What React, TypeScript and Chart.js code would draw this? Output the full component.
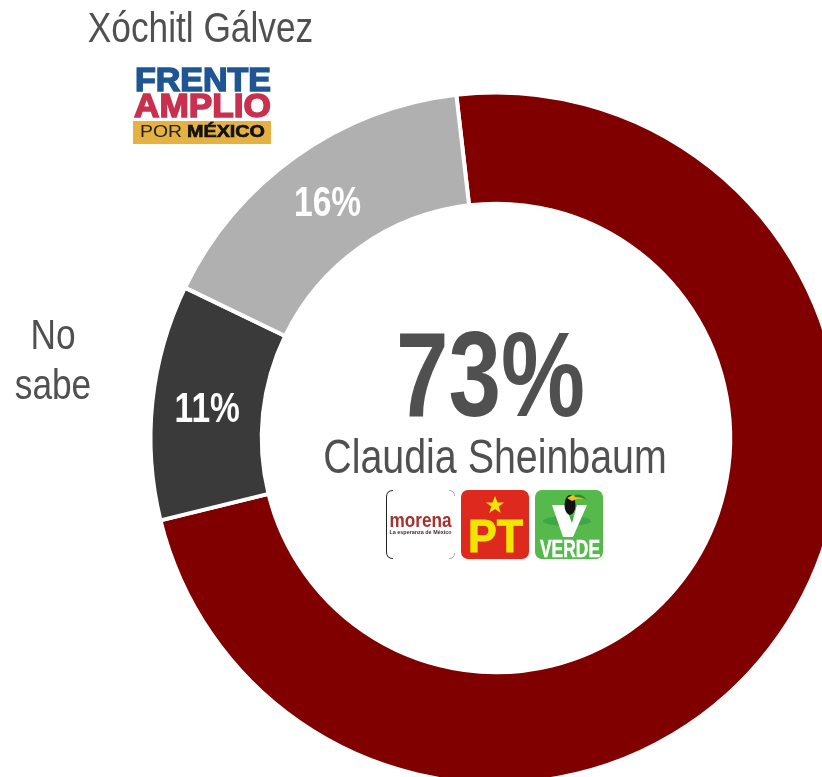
import React, { useEffect, useRef } from "react";
import { Chart, registerables } from "chart.js";

Chart.register(...registerables);

const categories = ["Claudia Sheinbaum", "No sabe", "Xóchitl Gálvez"];
const values = [73, 11, 16];
const colors = ["#800000", "#3A3A3A", "#B0B0B0"];
const FONT = '"Liberation Sans", Arial, sans-serif';
const TEXT = "#505050";

function narrowText(ctx: any, text: string, x: number, y: number, font: string, color: string, sx = 0.82) {
  ctx.save();
  ctx.translate(x, y);
  ctx.scale(sx, 1);
  ctx.font = font;
  ctx.fillStyle = color;
  ctx.textAlign = "center";
  ctx.textBaseline = "alphabetic";
  ctx.fillText(text, 0, 0);
  ctx.restore();
}

const labelsPlugin = {
  id: "labelsPlugin",
  afterDatasetsDraw(chart: any) {
    const { ctx } = chart;
    const arcs = chart.getDatasetMeta(0).data;
    [1, 2].forEach((i) => {
      const p = arcs[i].getCenterPoint();
      narrowText(ctx, `${values[i]}%`, p.x - 0.5, p.y + 14, `bold 43px ${FONT}`, "#FFFFFF", 0.78);
    });
    const c = arcs[0];
    narrowText(ctx, `${values[0]}%`, c.x - 5.5, 416, `bold 121px ${FONT}`, TEXT, 0.78);
    narrowText(ctx, categories[0], c.x - 1, 473, `48px ${FONT}`, TEXT);
    narrowText(ctx, categories[2], 200.5, 42, `43px ${FONT}`, TEXT);
    narrowText(ctx, "No", 53, 349, `43px ${FONT}`, TEXT);
    narrowText(ctx, "sabe", 53, 399, `43px ${FONT}`, TEXT);
  },
};

function FrenteLogo() {
  return (
    <svg width={140} height={80} style={{ position: "absolute", left: 132, top: 65 }}>
      <text x={3} y={26} textLength={136} lengthAdjust="spacingAndGlyphs" fontFamily="Liberation Sans" fontWeight="bold" fontSize={33} fill="#1F5592" stroke="#1F5592" strokeWidth={1.5}>FRENTE</text>
      <text x={2} y={52} textLength={137} lengthAdjust="spacingAndGlyphs" fontFamily="Liberation Sans" fontWeight="bold" fontSize={33} fill="#C9304F" stroke="#C9304F" strokeWidth={1.5}>AMPLIO</text>
      <rect x={1} y={56} width={138} height={23} fill="#E5B142" />
      <text x={8} y={72} textLength={42} lengthAdjust="spacingAndGlyphs" fontFamily="Liberation Sans" fontSize={16} fill="#222">POR</text>
      <text x={55} y={72} textLength={78} lengthAdjust="spacingAndGlyphs" fontFamily="Liberation Sans" fontWeight="bold" fontSize={16} fill="#111" stroke="#111" strokeWidth={0.6}>MÉXICO</text>
    </svg>
  );
}

function PartyLogos() {
  return (
    <svg width={225} height={75} style={{ position: "absolute", left: 383, top: 487 }}>
      <path d="M10 3.5 Q3.5 3.5 3.5 10 V65 Q3.5 71.5 10 71.5" fill="none" stroke="#222" strokeWidth={1} />
      <path d="M66 3.5 Q71.5 3.5 71.5 9 M71.5 66 Q71.5 71.5 66 71.5" fill="none" stroke="#999" strokeWidth={0.8} />
      <text x={37.5} y={40} textAnchor="middle" textLength={62} lengthAdjust="spacingAndGlyphs" fontFamily="Liberation Sans" fontWeight="bold" fontSize={20} fill="#A6322E">morena</text>
      <text x={37.5} y={46.5} textAnchor="middle" textLength={62} lengthAdjust="spacingAndGlyphs" fontFamily="Liberation Sans" fontWeight="bold" fontSize={6} fill="#333">La esperanza de México</text>

      <rect x={78} y={3} width={68} height={69} rx={7} fill="#DE2A1E" />
      <polygon points="112,9 114.5,15.5 121,15.5 115.7,19.5 117.8,26 112,22 106.2,26 108.3,19.5 103,15.5 109.5,15.5" fill="#F0E600" />
      <text x={112.5} y={65} textAnchor="middle" textLength={55} lengthAdjust="spacingAndGlyphs" fontFamily="Liberation Sans" fontWeight="bold" fontSize={47} fill="#F0E600" stroke="#F0E600" strokeWidth={1}>PT</text>

      <rect x={152} y={3} width={68} height={69} rx={7} fill="#55BA4B" />
      <ellipse cx={184} cy={34} rx={24} ry={5} fill="#2F9A3D" opacity={0.6} />
      <polygon points="169,18 182,18 189,36 194,18 204,18 190,50 180,50" fill="#FFFFFF" />
      <ellipse cx={187} cy={18} rx={5.5} ry={10} fill="#111" />
      <path d="M184 11 Q194 4 204 13 Q195 10 189 14 Z" fill="#F2C21B" />
      <path d="M191 8 Q199 6 204 13 Q198 10 192 10 Z" fill="#2E8B3D" />
      <text x={187} y={70} textAnchor="middle" textLength={60} lengthAdjust="spacingAndGlyphs" fontFamily="Liberation Sans" fontWeight="bold" fontSize={24} fill="#FFFFFF" stroke="#FFFFFF" strokeWidth={0.5}>VERDE</text>
    </svg>
  );
}

export default function App() {
  const ref = useRef<HTMLCanvasElement>(null);
  useEffect(() => {
    document.body.style.margin = "0";
    const chart = new Chart(ref.current!, {
      type: "doughnut",
      data: {
        labels: categories,
        datasets: [
          {
            data: values,
            backgroundColor: colors,
            borderColor: "#FFFFFF",
            borderWidth: 4,
            hoverOffset: 0,
          },
        ],
      },
      options: {
        animation: false,
        responsive: false,
        rotation: -6.6,
        radius: 345.5,
        cutout: "67.8%",
        plugins: { legend: { display: false }, tooltip: { enabled: false } },
      } as any,
      plugins: [labelsPlugin],
    });
    return () => chart.destroy();
  }, []);
  return (
    <div style={{ position: "absolute", left: 0, top: 0, width: 822, height: 777, overflow: "hidden", background: "#fff" }}>
      <canvas ref={ref} width={992} height={876} style={{ display: "block" }} />
      <FrenteLogo />
      <PartyLogos />
    </div>
  );
}
